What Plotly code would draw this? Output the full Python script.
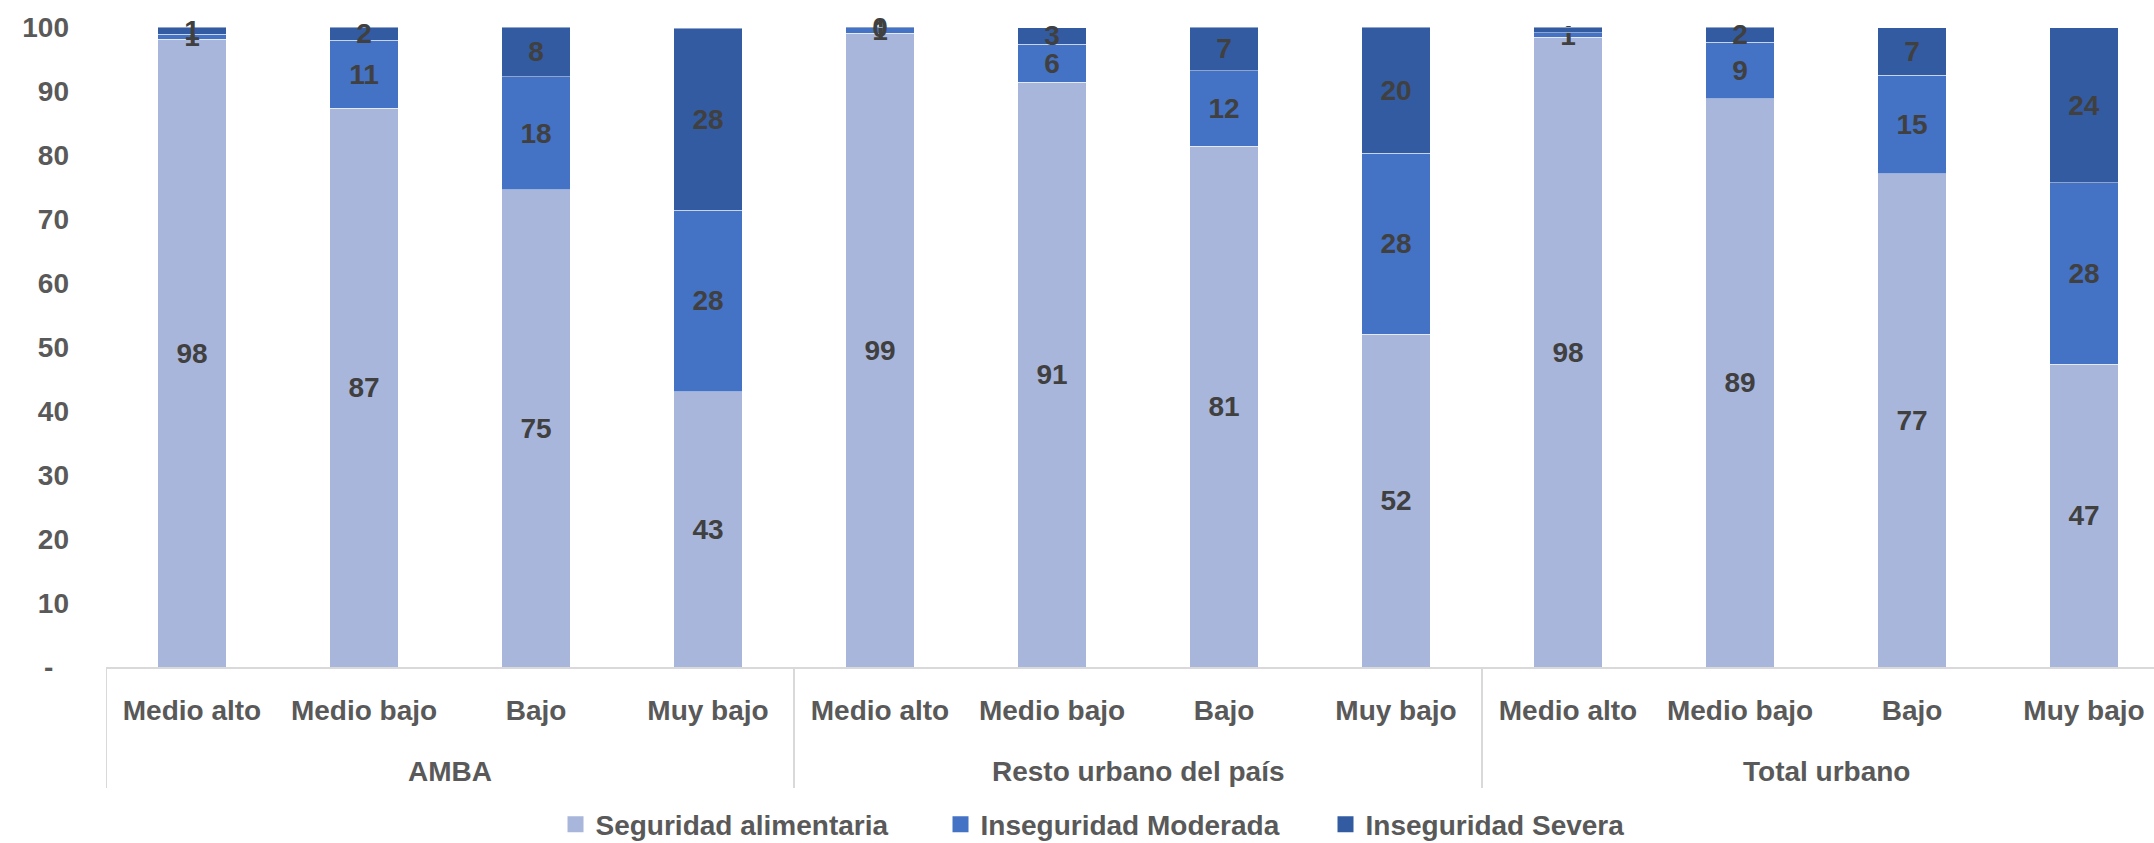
import plotly.graph_objects as go

regions = ["AMBA", "Resto urbano del país", "Total urbano"]
strata = ["Medio alto", "Medio bajo", "Bajo", "Muy bajo"]

seguridad = [98.1, 87.3, 74.6, 43.0, 99.0, 91.4, 81.4, 52.0, 98.4, 88.8, 77.1, 47.3]
moderada = [0.8, 10.6, 17.6, 28.4, 0.9, 5.9, 11.8, 28.3, 0.7, 8.8, 15.4, 28.4]
severa = [1.1, 2.1, 7.8, 28.4, 0.1, 2.6, 6.8, 19.7, 0.9, 2.4, 7.4, 24.2]

series_names = ["Seguridad alimentaria", "Inseguridad Moderada", "Inseguridad Severa"]
series_colors = ["#A9B6DB", "#4472C4", "#335BA1"]

y_ticks = [0, 10, 20, 30, 40, 50, 60, 70, 80, 90, 100]
y_ticktext = ["-\u00a0\u00a0"] + [str(v) for v in y_ticks[1:]]

n_s = len(strata)
x_pos = list(range(len(regions) * n_s))
x_labels = [s for _ in regions for s in strata]

FONT = "Liberation Sans"
GRAY = "#595959"
LINE = "#D9D9D9"

PLOT_H = 640  # plot area height in px (used for converting px offsets to paper units)

fig = go.Figure()
for name, vals, col in zip(series_names, [seguridad, moderada, severa], series_colors):
    fig.add_trace(go.Bar(
        x=x_pos, y=vals, name=name, legendgroup=name, showlegend=False,
        marker=dict(color=col, line=dict(color="rgba(255,255,255,0.45)", width=1)),
        width=0.4,
        text=[f"{v:.0f}" for v in vals],
        textposition="inside", insidetextanchor="middle", textangle=0,
        constraintext="none", cliponaxis=False,
        textfont=dict(family=FONT, size=28, color="#404040", weight="bold"),
        hoverinfo="skip",
    ))
# legend entries with larger square swatches
for name, col in zip(series_names, series_colors):
    fig.add_trace(go.Scatter(
        x=[None], y=[None], mode="markers", name=name, legendgroup=name,
        marker=dict(symbol="square", size=17, color=col), hoverinfo="skip",
    ))

# group labels and dividers on the category axis
for gi, region in enumerate(regions):
    idx = x_pos[gi * n_s:(gi + 1) * n_s]
    center = sum(idx) / len(idx)
    fig.add_annotation(x=center, xref="x", y=-104 / PLOT_H, yref="paper",
                       text=region, showarrow=False, yanchor="middle",
                       font=dict(family=FONT, size=28, color=GRAY, weight="bold"))
    fig.add_shape(type="line", xref="x", yref="paper",
                  x0=idx[0] - 0.5, x1=idx[0] - 0.5, y0=0, y1=-121 / PLOT_H,
                  line=dict(color=LINE, width=2))

fig.update_layout(
    barmode="stack",
    width=2154, height=843,
    margin=dict(l=106, r=0, t=27, b=176),
    paper_bgcolor="white", plot_bgcolor="white",
    font=dict(family=FONT, size=28, color=GRAY, weight="bold"),
    uniformtext=dict(minsize=28, mode="show"),
    showlegend=True,
    legend=dict(orientation="h", xref="container", yref="container",
                x=0.526, xanchor="center", y=0.022, yanchor="middle",
                font=dict(family=FONT, size=28, color=GRAY, weight="bold"),
                traceorder="normal", itemwidth=30,
                entrywidth=340, entrywidthmode="pixels"),
)
fig.update_xaxes(
    range=[-0.5, 11.407], tickvals=x_pos, ticktext=x_labels,
    showline=True, linecolor=LINE, linewidth=2, zeroline=False,
    showgrid=False, ticks="", ticklabelstandoff=17,
    tickfont=dict(family=FONT, size=28, color=GRAY, weight="bold"),
)
fig.update_yaxes(
    range=[0, 100], tickvals=y_ticks, ticktext=y_ticktext,
    showgrid=False, zeroline=False, showline=False, ticks="",
    ticklabelstandoff=36,
    tickfont=dict(family=FONT, size=28, color=GRAY, weight="bold"),
)

fig.write_html("out.html", config={"displayModeBar": False},
               post_script="document.body.style.margin='0';document.body.style.overflow='hidden';")
